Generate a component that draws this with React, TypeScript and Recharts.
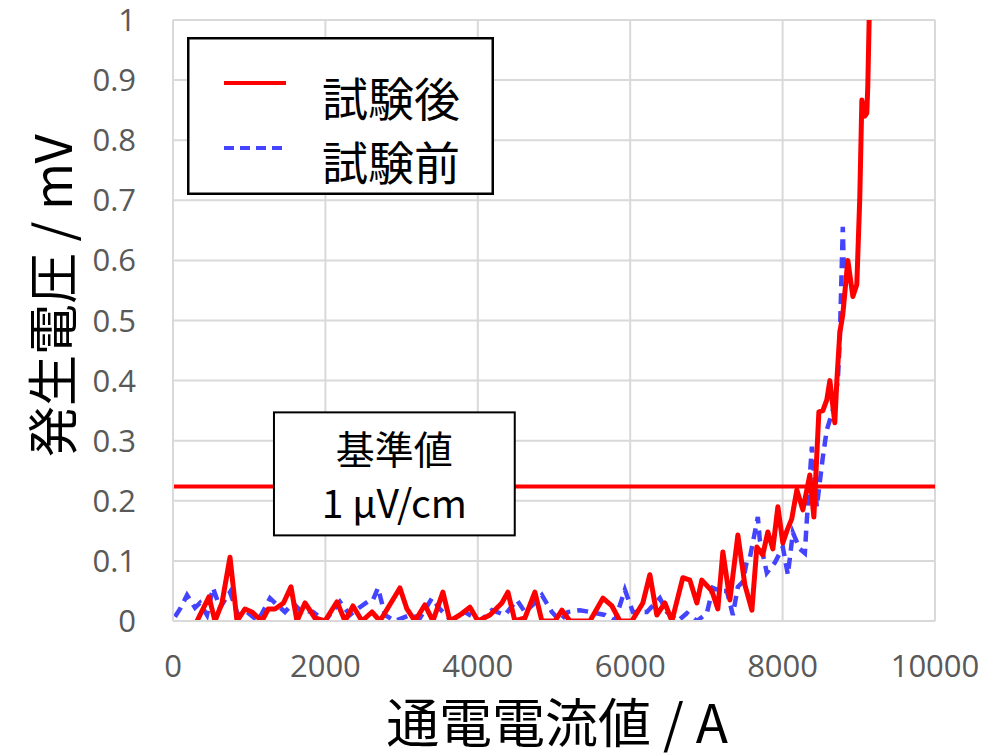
import { LineChart, Line, XAxis, YAxis, CartesianGrid, ReferenceLine, Legend, Label } from 'recharts'

// 通電電流 [A] と発生電圧 [mV]
const afterCurrent = [
  315, 472, 551, 643, 748, 840, 945, 1036, 1168, 1250, 1338, 1450, 1548, 1627, 1732, 1863, 1994,
  2152, 2257, 2362, 2480, 2611, 2716, 2978, 3070, 3175, 3306, 3411, 3542, 3634, 3765, 3897, 4002,
  4159, 4316, 4395, 4487, 4618, 4749, 4841, 5012, 5104, 5209, 5471, 5642, 5760, 5865, 6022, 6166,
  6258, 6350, 6455, 6547, 6691, 6783, 6875, 6940, 7072, 7150, 7216, 7308, 7413, 7505, 7597, 7662,
  7740, 7806, 7872, 7938, 8003, 8056, 8120, 8187, 8266, 8357, 8410, 8476, 8528, 8580, 8620, 8685,
  8712, 8751, 8790, 8856, 8922, 8974, 9013, 9040, 9079, 9105, 9118, 9144,
]
const afterVoltage = [
  0, 0.04, 0, 0.03, 0.106, 0, 0.02, 0.015, 0, 0.02, 0.02, 0.03, 0.057, 0, 0.03, 0.005, 0,
  0.032, 0, 0.025, 0, 0.015, 0, 0.055, 0.02, 0, 0.027, 0, 0.048, 0, 0.01, 0.023, 0,
  0.01, 0.03, 0.048, 0, 0.005, 0.048, 0, 0, 0.018, 0, 0, 0.038, 0.025, 0, 0, 0.03,
  0.077, 0.01, 0.03, 0, 0.072, 0.068, 0.03, 0.068, 0.05, 0.02, 0.115, 0.035, 0.143, 0.06, 0.018, 0.123,
  0.11, 0.148, 0.12, 0.19, 0.13, 0.15, 0.17, 0.218, 0.185, 0.243, 0.173, 0.348, 0.35, 0.368, 0.4, 0.33,
  0.4, 0.48, 0.51, 0.6, 0.54, 0.56, 0.705, 0.867, 0.84, 0.845, 0.89, 1.05,
]

const beforeCurrent = [
  26, 92, 184, 289, 354, 446, 525, 617, 748, 853, 971, 1115, 1273, 1364, 1469, 1574, 1666, 1837,
  1994, 2191, 2322, 2453, 2585, 2624, 2690, 2782, 2913, 3109, 3241, 3398, 3503, 3660, 3831, 4028,
  4185, 4356, 4513, 4618, 4749, 4841, 4972, 5078, 5182, 5340, 5471, 5668, 5799, 5930, 6035, 6219,
  6389, 6481, 6626, 6744, 6875, 7006, 7085, 7177, 7269, 7347, 7413, 7478, 7531, 7570, 7675, 7701,
  7793, 7898, 8003, 8069, 8135, 8226, 8292, 8318, 8384, 8449, 8528, 8580, 8659, 8725, 8751, 8790,
  8805,
]
const beforeVoltage = [
  0.007, 0.02, 0.043, 0.022, 0.03, 0.01, 0.055, 0.022, 0.048, 0.01, 0.015, 0, 0.038, 0.027, 0.015, 0.03, 0.018, 0.015,
  0, 0.032, 0.01, 0.023, 0.035, 0.035, 0.055, 0.01, 0, 0.01, 0.005, 0.038, 0.02, 0, 0.015, 0,
  0.018, 0.01, 0.035, 0.015, 0.03, 0.043, 0.015, 0, 0.015, 0.018, 0.015, 0.01, 0, 0.052, 0.015, 0.015,
  0.038, 0.015, 0, 0.013, 0, 0.013, 0.055, 0.05, 0.05, 0.01, 0.057, 0.065, 0.1, 0.105, 0.173, 0.135,
  0.08, 0.097, 0.123, 0.077, 0.147, 0.12, 0.113, 0.168, 0.29, 0.19, 0.273, 0.318, 0.35, 0.4, 0.47, 0.656,
  0.58,
]

const xTicks = [0, 2000, 4000, 6000, 8000, 10000]
const yTicks = [0, 0.1, 0.2, 0.3, 0.4, 0.5, 0.6, 0.7, 0.8, 0.9, 1]

// 基準値 1 µV/cm に相当する電圧
const criterion = 0.224

const afterData = afterCurrent.map((a, i) => ({ current: a, voltage: afterVoltage[i] }))
const beforeData = beforeCurrent.map((a, i) => ({ current: a, voltage: beforeVoltage[i] }))

const series = [
  { name: '試験後', color: '#ff0000', dash: undefined },
  { name: '試験前', color: '#4444ff', dash: '10 6' },
]

const jpFont = '"Noto Sans CJK JP", "Noto Sans", sans-serif'
const tickFont = '"Open Sans", "Liberation Sans", sans-serif'
const gridColor = '#d9d9d9'

function SeriesLegend() {
  return (
    <svg width={307} height={158} style={{ display: 'block' }}>
      <rect x={1.25} y={1.25} width={304.5} height={155.5} fill="#fff" stroke="#000" strokeWidth={2.5} />
      {series.map((s, i) => (
        <g key={s.name}>
          <line
            x1={37}
            x2={99}
            y1={46 + i * 65}
            y2={46 + i * 65}
            stroke={s.color}
            strokeWidth={4}
            strokeDasharray={s.dash}
          />
          <text
            x={135}
            y={59 + i * 64}
            dominantBaseline="central"
            fontSize={46}
            fontFamily={jpFont}
            fill="#000"
          >
            {s.name}
          </text>
        </g>
      ))}
    </svg>
  )
}

function CriterionBox(props: any) {
  const { viewBox } = props
  if (!viewBox) return null
  const { x, y, width } = viewBox
  const left = x + width * 0.1325
  const boxW = width * 0.316
  const cx = left + boxW / 2
  return (
    <g>
      <rect x={left} y={y - 74} width={boxW} height={123} fill="#fff" stroke="#000" strokeWidth={2} />
      <text x={cx} y={y - 39} textAnchor="middle" dominantBaseline="central" fontSize={39} fontFamily={jpFont} fill="#000">
        基準値
      </text>
      <text x={cx} y={y + 15} textAnchor="middle" dominantBaseline="central" fontSize={39} fontFamily={jpFont} fill="#000">
        1 μV/cm
      </text>
    </g>
  )
}

function YTitle(props: any) {
  const { viewBox } = props
  const cx = viewBox.x + 50
  const cy = viewBox.y + viewBox.height / 2 - 25
  return (
    <text
      x={cx}
      y={cy}
      transform={`rotate(-90, ${cx}, ${cy})`}
      textAnchor="middle"
      dominantBaseline="central"
      fontSize={51}
      fontFamily={jpFont}
      fill="#000"
    >
      発生電圧 / mV
    </text>
  )
}

function XTitle(props: any) {
  const { viewBox } = props
  const cx = viewBox.x + viewBox.width / 2 + 3
  const cy = viewBox.y + 99
  return (
    <text x={cx} y={cy} textAnchor="middle" dominantBaseline="central" fontSize={53} fontFamily={jpFont} fill="#000">
      通電電流値 / A
    </text>
  )
}

export default function App() {
  return (
    <div style={{ position: 'absolute', left: 0, top: 0, background: '#fff' }}>
      <LineChart width={998} height={754} margin={{ top: 20, right: 63, bottom: 0, left: 0 }}>
        <CartesianGrid stroke={gridColor} strokeWidth={2} />
        <XAxis
          type="number"
          dataKey="current"
          domain={[0, 10000]}
          ticks={xTicks}
          interval={0}
          height={133}
          tickLine={false}
          tickSize={0}
          tickMargin={34}
          axisLine={{ stroke: gridColor, strokeWidth: 2 }}
          tick={{ fill: '#595959', fontSize: 31, fontFamily: tickFont }}
        >
          <Label content={<XTitle />} />
        </XAxis>
        <YAxis
          type="number"
          domain={[0, 1]}
          ticks={yTicks}
          allowDataOverflow
          interval={0}
          width={173}
          tickLine={false}
          tickSize={0}
          tickMargin={37}
          axisLine={{ stroke: gridColor, strokeWidth: 2 }}
          tick={{ fill: '#595959', fontSize: 31, fontFamily: tickFont }}
          tickFormatter={(v: number) => String(Number(v.toFixed(1)))}
        >
          <Label content={<YTitle />} />
        </YAxis>
        <ReferenceLine y={criterion} stroke="#ff0000" strokeWidth={4} label={<CriterionBox />} />
        <Line
          data={beforeData}
          dataKey="voltage"
          name="試験前"
          type="linear"
          stroke="#4444ff"
          strokeWidth={4.5}
          strokeDasharray="11 7"
          dot={false}
          isAnimationActive={false}
        />
        <Line
          data={afterData}
          dataKey="voltage"
          name="試験後"
          type="linear"
          stroke="#ff0000"
          strokeWidth={5}
          strokeLinejoin="round"
          dot={false}
          isAnimationActive={false}
        />
        <Legend
          verticalAlign="middle"
          align="center"
          content={<SeriesLegend />}
          wrapperStyle={{ left: 187, top: 37, width: 307, height: 158 }}
        />
      </LineChart>
    </div>
  )
}
